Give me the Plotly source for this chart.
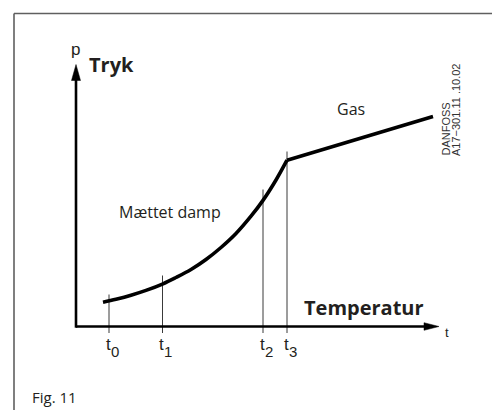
import plotly.graph_objects as go

# ---- data (arbitrary diagram units: temperature along x, pressure along y) ----
tick_names = ["0", "1", "2", "3"]
tick_temps = [33, 86.5, 187, 211]
tick_tops = [32, 51, 137, 175]

sat_temp = [27, 40, 55, 70, 87, 100, 115, 130, 145, 160, 175, 187, 200, 211]
sat_pres = [24.3, 27.3, 31.3, 36.1, 42.7, 49, 57, 67, 79, 93, 110.3, 126.1, 146.5, 166.3]

gas_temp = [211, 357]
gas_pres = [166.3, 210]

axis_x_end = 363
axis_y_end = 262

TXT = "#231f20"
FONT = "Open Sans, Noto Sans, DejaVu Sans, sans-serif"
NARROW = "Liberation Sans Narrow, Liberation Sans, Arial, sans-serif"

# page offset compensation (browser body margin)
OFF = 8

fig = go.Figure()

# tick guide lines (from curve region down through the axis)
for tx, top in zip(tick_temps, tick_tops):
    fig.add_trace(go.Scatter(x=[tx, tx], y=[top, -6.5], mode="lines",
                             line=dict(color="#3a3a3a", width=1),
                             hoverinfo="skip", showlegend=False))

# saturated vapour curve
fig.add_trace(go.Scatter(x=sat_temp, y=sat_pres, mode="lines",
                         line=dict(color="black", width=3.6, shape="spline", smoothing=1.0),
                         hoverinfo="skip", showlegend=False))
# gas line
fig.add_trace(go.Scatter(x=gas_temp, y=gas_pres, mode="lines",
                         line=dict(color="black", width=3.6),
                         hoverinfo="skip", showlegend=False))

x_lo, x_hi = -76 + OFF, 424 + OFF
y_lo, y_hi = -83.5 - OFF, 326.5 - OFF

shapes = []
# frame (left and top)
shapes.append(dict(type="line", x0=-62, x1=-62, y0=y_lo - 5, y1=313,
                   line=dict(color="#5f5f5f", width=1.6)))
shapes.append(dict(type="line", x0=-62, x1=x_hi + 5, y0=313, y1=313,
                   line=dict(color="#5f5f5f", width=1.6)))
# axes
shapes.append(dict(type="line", x0=0, x1=axis_x_end - 10, y0=0, y1=0, line=dict(color="black", width=2.6)))
shapes.append(dict(type="line", x0=0, x1=0, y0=-1.2, y1=axis_y_end - 10, line=dict(color="black", width=2.6)))
# arrowheads
shapes.append(dict(type="path",
                   path=f"M {axis_x_end-15},-3.8 L {axis_x_end},0 L {axis_x_end-15},3.8 Z",
                   fillcolor="black", line=dict(color="black", width=0.5)))
shapes.append(dict(type="path",
                   path=f"M -4.5,{axis_y_end-16} L 0,{axis_y_end} L 4.5,{axis_y_end-16} Z",
                   fillcolor="black", line=dict(color="black", width=0.5)))

ann = []
def A(x, y, text, size, family=FONT, xanchor="center", yanchor="middle", color=TXT, **kw):
    ann.append(dict(x=x, y=y, text=text, showarrow=False, xanchor=xanchor, yanchor=yanchor,
                    font=dict(size=size, family=family, color=color), **kw))

# tick labels t0..t3
for tx, nm in zip(tick_temps, tick_names):
    A(tx + 3.5, -17.5, "t", 17, family=NARROW, xanchor="right")
    A(tx - 0.5, -24.5, nm, 15, family=NARROW, xanchor="left")

A(-1, 277, "p", 17, family=NARROW)
A(11, 262, "<b>Tryk</b>", 20, xanchor="left")
A(226, 19, "<b>Temperatur</b>", 20, xanchor="left")
A(371, -6, "t", 13, family=NARROW)
A(94, 114.5, "Mættet damp", 16)
A(275, 218, "Gas", 16)
A(-46, -70.5, "Fig. 11", 15, xanchor="left")
A(369, 168.5, "DANFOSS", 11, family="Liberation Sans, Arial, sans-serif", yanchor="bottom",
  textangle=-90, color="#333333")
A(380, 168.5, "A17−301.11 .10.02", 11, family="Liberation Sans, Arial, sans-serif", yanchor="bottom",
  textangle=-90, color="#333333")

fig.update_layout(
    width=500, height=410,
    margin=dict(l=0, r=0, t=0, b=0),
    paper_bgcolor="white", plot_bgcolor="white",
    xaxis=dict(range=[x_lo, x_hi], visible=False, fixedrange=True),
    yaxis=dict(range=[y_lo, y_hi], visible=False, fixedrange=True),
    shapes=shapes, annotations=ann, showlegend=False,
)

fig.write_html("out.html")
